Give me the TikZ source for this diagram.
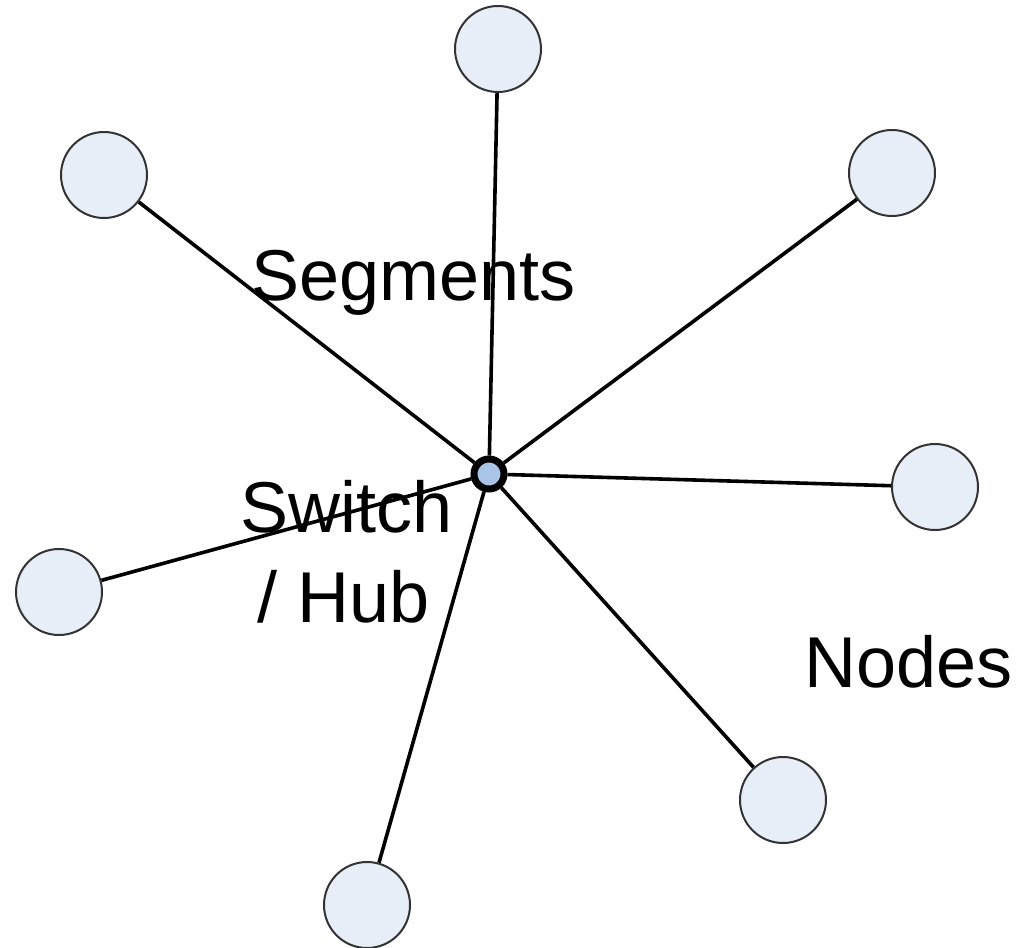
\documentclass[tikz,border=0pt]{standalone}
\usepackage{fontspec}
\setmainfont{Liberation Sans}
\definecolor{nodefill}{HTML}{E8EEF8}
\definecolor{hubfill}{HTML}{A9C4E6}
\definecolor{rim}{HTML}{333333}
\begin{document}
\begin{tikzpicture}[x=1pt,y=-1pt,
  endnode/.style={circle,draw=rim,line width=2pt,fill=nodefill,minimum size=86pt,inner sep=0pt},
  hubnode/.style={circle,draw=black,line width=7pt,fill=hubfill,minimum size=30pt,inner sep=0pt},
  seg/.style={line width=3.6pt,black},
  lbl/.style={font=\fontsize{72}{86}\selectfont,inner sep=0pt,anchor=base west}]
\useasboundingbox (0,0) rectangle (1026,948);
\node[endnode] (n1) at (498,49) {};
\node[endnode] (n2) at (104,175) {};
\node[endnode] (n3) at (892,173) {};
\node[endnode] (n4) at (935,487) {};
\node[endnode] (n5) at (59,592) {};
\node[endnode] (n6) at (783,800) {};
\node[endnode] (n7) at (367,905) {};
\node[hubnode] (hub) at (489,474) {};
\foreach \n in {n1,n2,n3,n4,n5,n6,n7}
  \draw[seg] (hub) -- (\n);
\node[lbl] (segs) at (251,300) {Segments};
\node[lbl] (sw1) at (240,532) {Switch};
\node[lbl] (sw2) at (257,622) {/ Hub};
\node[lbl] (nodes) at (804,687) {Nodes};
\end{tikzpicture}
\end{document}
